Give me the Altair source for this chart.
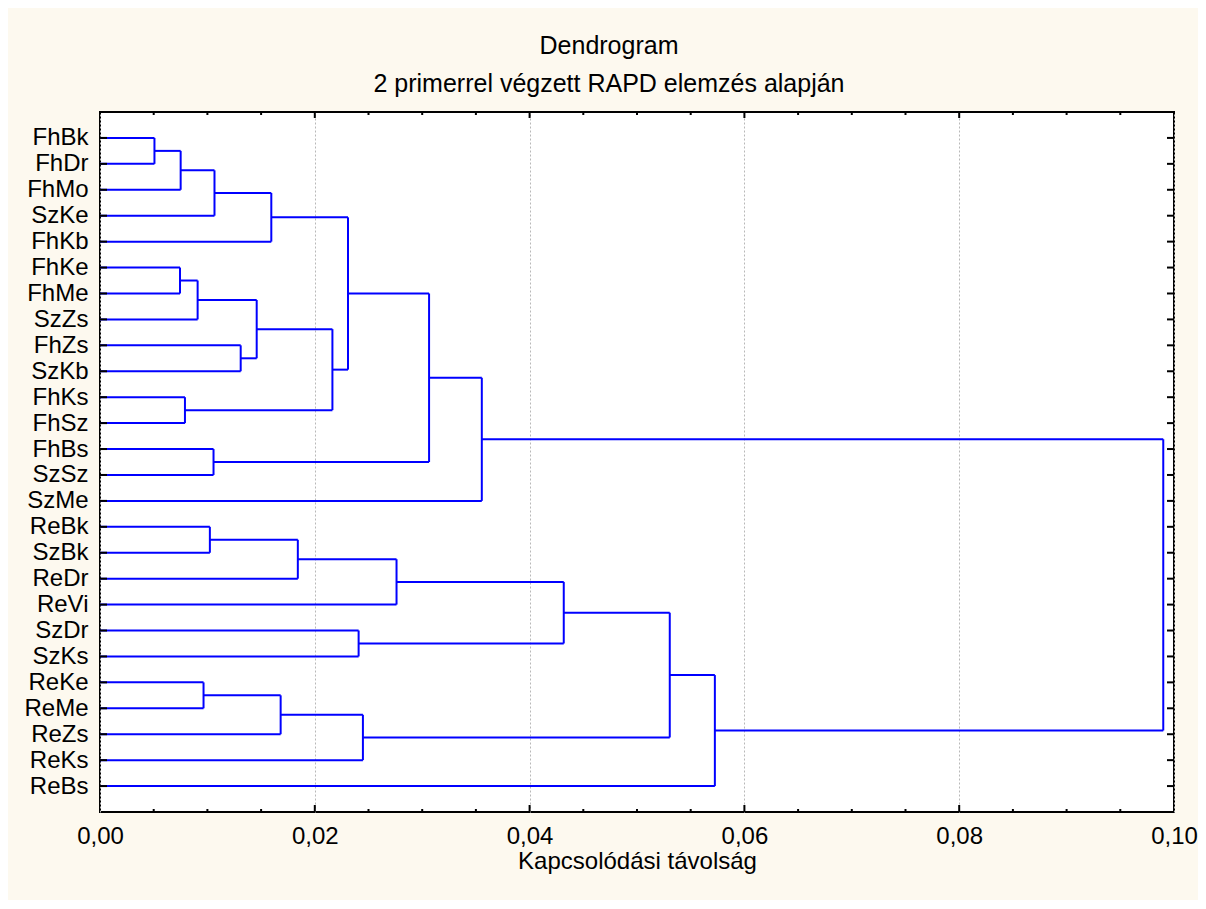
import altair as alt
import pandas as pd

# ---- data ----
leaves = ["FhBk", "FhDr", "FhMo", "SzKe", "FhKb", "FhKe", "FhMe", "SzZs", "FhZs",
          "SzKb", "FhKs", "FhSz", "FhBs", "SzSz", "SzMe", "ReBk", "SzBk", "ReDr",
          "ReVi", "SzDr", "SzKs", "ReKe", "ReMe", "ReZs", "ReKs", "ReBs"]

# merges: cluster ids 0..25 are leaves, 26.. are merges in this order
merge_a = [0, 26, 27, 28, 5, 30, 8, 31, 10, 33, 29, 12, 36, 38,
           15, 40, 41, 19, 42, 21, 45, 46, 44, 48, 39]
merge_b = [1, 2, 3, 4, 6, 7, 9, 32, 11, 34, 35, 13, 37, 14,
           16, 17, 18, 20, 43, 22, 23, 24, 47, 25, 49]
merge_h = [0.00507, 0.00751, 0.01066, 0.01595, 0.00745, 0.00909, 0.01310, 0.01459,
           0.00791, 0.02164, 0.02309, 0.01057, 0.03064, 0.03555,
           0.01023, 0.01842, 0.02761, 0.02408, 0.04318, 0.00964, 0.01682, 0.02448,
           0.05305, 0.05725, 0.0990]

x_labels = [0.0, 0.02, 0.04, 0.06, 0.08, 0.10]
x_major_ticks = [0.02, 0.04, 0.06, 0.08]
x_minor_ticks = [0.005, 0.01, 0.015, 0.025, 0.03, 0.035, 0.045, 0.05, 0.055,
                 0.065, 0.07, 0.075, 0.085, 0.09, 0.095]

# ---- build the dendrogram segments from the linkage ----
ypos = {i: i + 1 for i in range(len(leaves))}
xpos = {i: 0.0 for i in range(len(leaves))}
segs = []
for k, (a, b, h) in enumerate(zip(merge_a, merge_b, merge_h)):
    nid = len(leaves) + k
    segs.append(dict(x=xpos[a], x2=h, y=ypos[a], y2=ypos[a]))
    segs.append(dict(x=xpos[b], x2=h, y=ypos[b], y2=ypos[b]))
    segs.append(dict(x=h, x2=h, y=ypos[a], y2=ypos[b]))
    ypos[nid] = (ypos[a] + ypos[b]) / 2
    xpos[nid] = h
seg_df = pd.DataFrame(segs)

leaf_df = pd.DataFrame({"y": list(range(1, len(leaves) + 1))})
major_df = pd.DataFrame({"x": x_major_ticks})
minor_df = pd.DataFrame({"x": x_minor_ticks})

FONT = "Liberation Sans"
W, H = 1074, 700

xs = alt.Scale(domain=[0, 0.1], nice=False, zero=False)
ys = alt.Scale(domain=[0, len(leaves) + 1], reverse=True, nice=False, zero=False)

label_expr_y = "[" + ",".join("'" + n + "'" for n in leaves) + "][datum.value - 1]"

xaxis = alt.Axis(values=x_labels,
                 labelExpr="replace(format(datum.value, '.2f'), '.', ',')",
                 tickSize=0, domain=False, grid=True, gridColor="#b8b8b8",
                 gridDash=[2, 2], gridWidth=1, labelFontSize=24, labelColor="black",
                 labelFont=FONT, labelPadding=12, labelFlush=False,
                 title="Kapcsolódási távolság", titleFontSize=24,
                 titleFontWeight="normal", titleColor="black", titleFont=FONT,
                 titlePadding=1)
yaxis = alt.Axis(values=list(range(1, len(leaves) + 1)), labelExpr=label_expr_y,
                 tickSize=0, domain=False, grid=False, labelFontSize=24,
                 labelColor="black", labelFont=FONT, labelPadding=12, title="")

dendro = alt.Chart(seg_df).mark_rule(color="#0000ff", strokeWidth=2).encode(
    x=alt.X("x:Q", scale=xs, axis=xaxis),
    x2="x2:Q",
    y=alt.Y("y:Q", scale=ys, axis=yaxis),
    y2="y2:Q",
)

tick_style = dict(color="black", strokeWidth=2)

left_ticks = alt.Chart(leaf_df).mark_rule(**tick_style).encode(
    y=alt.Y("y:Q", scale=ys, axis=yaxis), x=alt.value(0), x2=alt.value(7))
right_ticks = alt.Chart(leaf_df).mark_rule(**tick_style).encode(
    y=alt.Y("y:Q", scale=ys, axis=yaxis), x=alt.value(W - 7), x2=alt.value(W))

bot_major = alt.Chart(major_df).mark_rule(**tick_style).encode(
    x=alt.X("x:Q", scale=xs, axis=xaxis), y=alt.value(H - 7), y2=alt.value(H))
bot_minor = alt.Chart(minor_df).mark_rule(**tick_style).encode(
    x=alt.X("x:Q", scale=xs, axis=xaxis), y=alt.value(H - 3), y2=alt.value(H))
top_major = alt.Chart(major_df).mark_rule(**tick_style).encode(
    x=alt.X("x:Q", scale=xs, axis=xaxis), y=alt.value(0), y2=alt.value(6))
top_minor = alt.Chart(minor_df).mark_rule(**tick_style).encode(
    x=alt.X("x:Q", scale=xs, axis=xaxis), y=alt.value(0), y2=alt.value(3))

chart = alt.layer(
    dendro, left_ticks, right_ticks, bot_major, bot_minor, top_major, top_minor
).properties(
    width=W, height=H,
    background="#fdf9ef",
    padding={"left": 92, "top": 104, "right": 24, "bottom": 88},
    autosize=alt.AutoSizeParams(type="none"),
    title=alt.TitleParams(
        text="Dendrogram",
        subtitle="2 primerrel végzett RAPD elemzés alapján",
        font=FONT, subtitleFont=FONT, fontSize=25, subtitleFontSize=25,
        fontWeight="normal", color="black", subtitleColor="black",
        anchor="middle", dx=-28, subtitlePadding=13, offset=14,
    ),
).configure_view(fill="white", stroke="black", strokeWidth=2)

chart.save("out.html", embed_options={"renderer": "svg", "actions": False})
